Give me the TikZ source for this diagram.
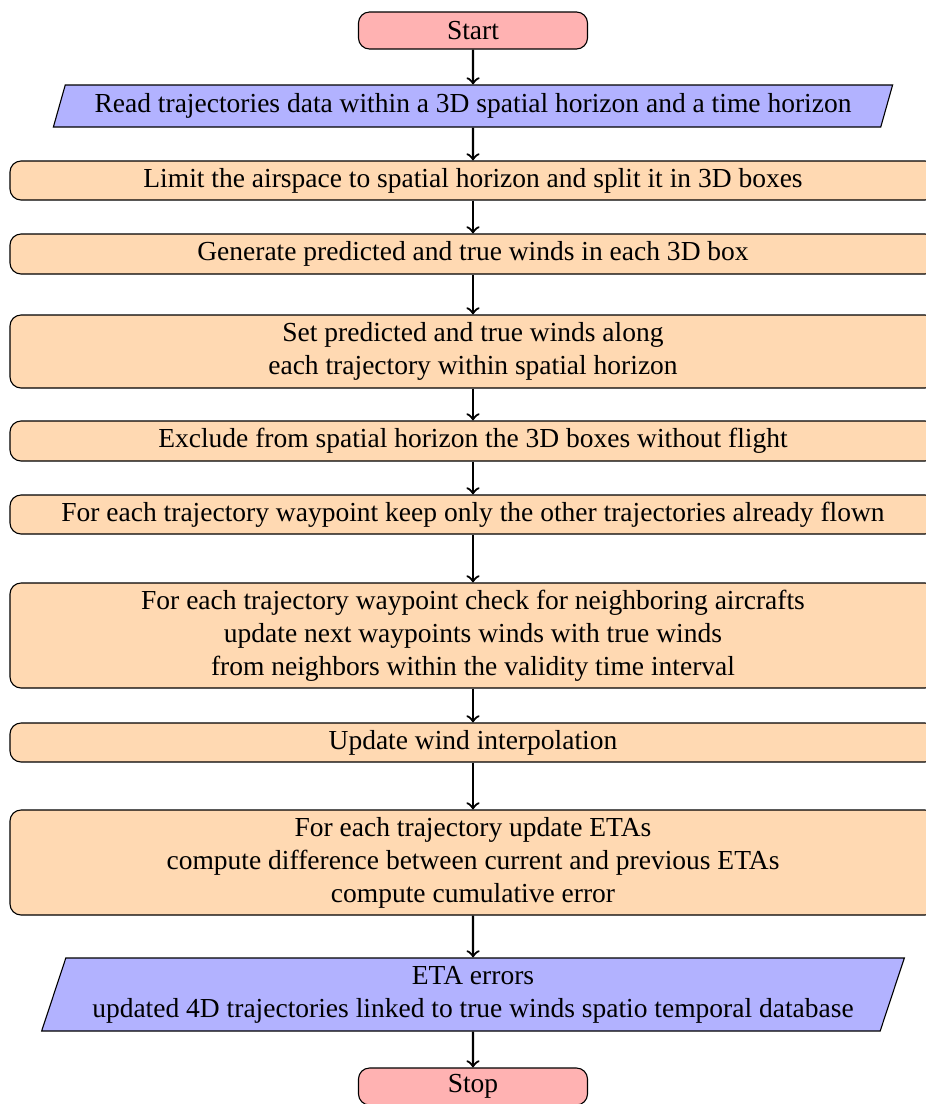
\documentclass[tikz,border=0pt]{standalone}
\usepackage{fontspec}
\setmainfont{Liberation Serif}
\usetikzlibrary{shapes.geometric}
\def\pxu{0.3636pt}
\tikzset{
  term/.style={draw, fill=red!30, rounded corners, minimum width=229*\pxu, minimum height=37*\pxu, inner sep=1pt, align=center},
  io/.style={draw, fill=blue!30, trapezium, trapezium left angle=70, trapezium right angle=110, trapezium stretches=true, inner sep=1pt, align=center},
  proc/.style={draw, fill=orange!30, rounded corners, minimum width=926*\pxu, inner sep=1pt, align=center},
  flow/.style={thick, ->}
}
\begin{document}
\begin{tikzpicture}[x=0.3636pt, y=-0.3636pt, font=\fontsize{10}{12}\selectfont]
\useasboundingbox (0,0) rectangle (926,1104);
\node[term] (start) at (473,30.5) {Start};
\node[io, minimum width=842*\pxu, minimum height=42*\pxu] (read) at (473,106) {Read trajectories data within a 3D spatial horizon and a time horizon};
\node[proc, minimum height=39*\pxu] (limit) at (473,180.5) {Limit the airspace to spatial horizon and split it in 3D boxes};
\node[proc, minimum height=40*\pxu] (gen) at (473,254) {Generate predicted and true winds in each 3D box};
\node[proc, minimum height=73*\pxu] (set) at (473,351.5) {Set predicted and true winds along\\each trajectory within spatial horizon};
\node[proc, minimum height=40*\pxu] (excl) at (473,441) {Exclude from spatial horizon the 3D boxes without flight};
\node[proc, minimum height=39*\pxu] (keep) at (473,514.5) {For each trajectory waypoint keep only the other trajectories already flown};
\node[proc, minimum height=105*\pxu] (check) at (473,635.5) {For each trajectory waypoint check for neighboring aircrafts\\update next waypoints winds with true winds\\from neighbors within the validity time interval};
\node[proc, minimum height=39*\pxu] (interp) at (473,742.5) {Update wind interpolation};
\node[proc, minimum height=105*\pxu] (etas) at (473,862.5) {For each trajectory update ETAs\\compute difference between current and previous ETAs\\compute cumulative error};
\node[io, minimum width=866*\pxu, minimum height=73*\pxu] (err) at (473,994.5) {ETA errors\\updated 4D trajectories linked to true winds spatio temporal database};
\node[term] (stop) at (473,1086.5) {Stop};
\draw[flow] (start) -- (read);
\draw[flow] (read) -- (limit);
\draw[flow] (limit) -- (gen);
\draw[flow] (gen) -- (set);
\draw[flow] (set) -- (excl);
\draw[flow] (excl) -- (keep);
\draw[flow] (keep) -- (check);
\draw[flow] (check) -- (interp);
\draw[flow] (interp) -- (etas);
\draw[flow] (etas) -- (err);
\draw[flow] (err) -- (stop);
\end{tikzpicture}
\end{document}
